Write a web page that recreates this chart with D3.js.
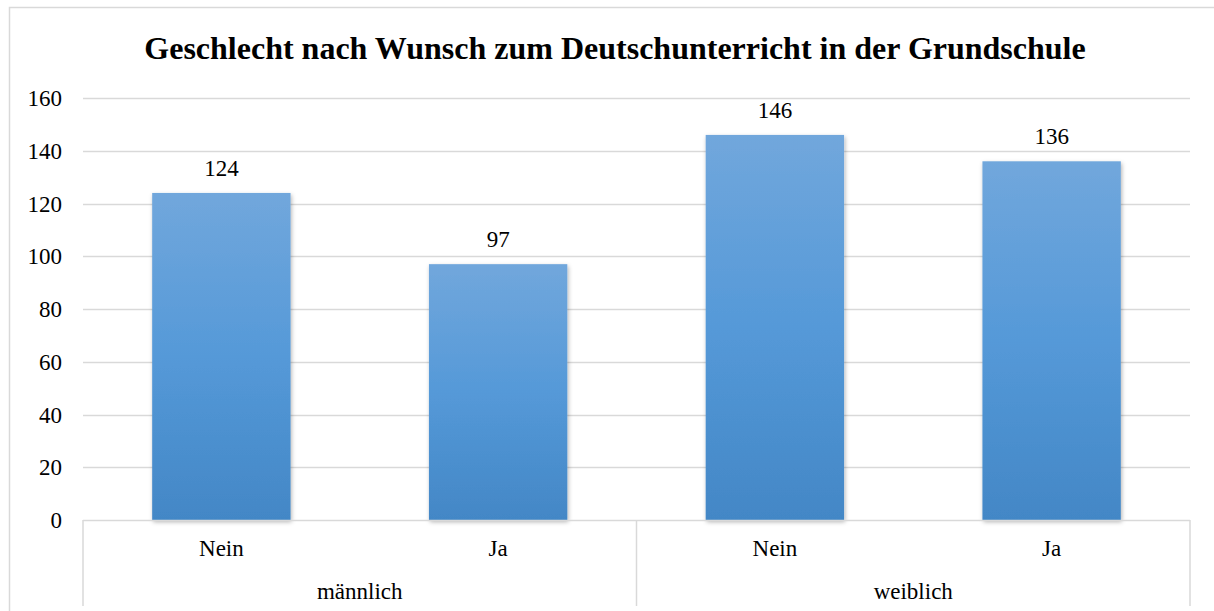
<!DOCTYPE html>
<html>
<head>
<meta charset="utf-8">
<script src="https://d3js.org/d3.v7.min.js"></script>
<style>
  body { margin: 0; background: #fff; }
  svg text { font-family: "Liberation Serif", "Times New Roman", serif; fill: #000; }
  .grid line { stroke: #d9d9d9; stroke-width: 1.5px; }
  .y.axis text { font-size: 23px; }
</style>
</head>
<body>
<div id="chart"></div>
<script>
var groups = ["männlich", "weiblich"];
var answers = ["Nein", "Ja"];
var values = [124, 97, 146, 136];
var yTicks = [0, 20, 40, 60, 80, 100, 120, 140, 160];
var title = "Geschlecht nach Wunsch zum Deutschunterricht in der Grundschule";

var width = 1214, height = 611;
var margins = {top: 98, left: 83, right: 24, bottom: 91};
var plotW = width - margins.left - margins.right,
    plotH = height - margins.top - margins.bottom;

// one row per bar: group + answer
var rows = [];
groups.forEach(function(g, gi){
  answers.forEach(function(a, ai){
    rows.push({key: g + "|" + a, group: g, answer: a, value: values[gi * answers.length + ai]});
  });
});

var svg = d3.select("#chart").append("svg")
    .attr("width", width)
    .attr("height", height)
    .attr("font-family", "Liberation Serif, serif");

var defs = svg.append("defs");
var grad = defs.append("linearGradient")
    .attr("id", "barGrad")
    .attr("x1", 0).attr("y1", 0).attr("x2", 0).attr("y2", 1);
grad.append("stop").attr("offset", "0%").attr("stop-color", "#71a7dc");
grad.append("stop").attr("offset", "50%").attr("stop-color", "#5599d8");
grad.append("stop").attr("offset", "100%").attr("stop-color", "#4387c6");

var shadow = defs.append("filter").attr("id", "shadow")
    .attr("x", "-10%").attr("y", "-10%").attr("width", "130%").attr("height", "130%");
shadow.append("feDropShadow")
    .attr("dx", 1).attr("dy", 2).attr("stdDeviation", 2)
    .attr("flood-color", "#000").attr("flood-opacity", 0.3);

// outer chart border
svg.append("rect")
    .attr("x", 9.5).attr("y", 7.5)
    .attr("width", width + 10).attr("height", height + 10)
    .attr("fill", "none")
    .attr("stroke", "#d9d9d9")
    .attr("stroke-width", 1.5);

svg.append("text")
    .attr("x", 615)
    .attr("y", 59)
    .attr("text-anchor", "middle")
    .style("font-size", "32px")
    .style("font-weight", "bold")
    .text(title);

var chart = svg.append("g")
    .attr("transform", "translate(" + margins.left + "," + margins.top + ")");

var x = d3.scaleBand()
    .domain(rows.map(function(d){ return d.key; }))
    .range([0, plotW])
    .paddingInner(0.5)
    .paddingOuter(0.25);

var y = d3.scaleLinear()
    .domain([0, 160])
    .range([plotH, 0]);

// gridlines
chart.append("g")
    .attr("class", "grid")
  .selectAll("line")
    .data(yTicks.filter(function(t){ return t > 0; }))
    .enter().append("line")
    .attr("x1", 0).attr("x2", plotW)
    .attr("y1", function(d){ return Math.round(y(d)) + 0.5; })
    .attr("y2", function(d){ return Math.round(y(d)) + 0.5; });

// y axis labels
var yAxis = d3.axisLeft(y).tickValues(yTicks).tickSize(0).tickPadding(21);
chart.append("g")
    .attr("class", "y axis")
    .call(yAxis)
    .attr("font-family", null)
    .attr("font-size", null)
    .call(function(g){ g.select(".domain").remove(); })
    .selectAll("text").attr("dy", "0.33em");

// bars
chart.selectAll(".bar")
    .data(rows)
    .enter().append("rect")
    .attr("class", "bar")
    .attr("x", function(d){ return x(d.key); })
    .attr("width", x.bandwidth())
    .attr("y", function(d){ return y(d.value); })
    .attr("height", function(d){ return plotH - y(d.value); })
    .attr("fill", "url(#barGrad)")
    .attr("filter", "url(#shadow)");

// value labels
chart.selectAll(".val")
    .data(rows)
    .enter().append("text")
    .attr("class", "val")
    .attr("x", function(d){ return x(d.key) + x.bandwidth() / 2; })
    .attr("y", function(d){ return y(d.value) - 17; })
    .attr("text-anchor", "middle")
    .style("font-size", "23px")
    .text(function(d){ return d.value; });

// category axis: baseline + separators
var axisCol = "#d9d9d9";
var step = x.step();
var groupW = step * answers.length;
var axisG = chart.append("g").attr("transform", "translate(0," + plotH + ")");

axisG.append("line")
    .attr("x1", 0).attr("x2", plotW)
    .attr("y1", 0.5).attr("y2", 0.5)
    .attr("stroke", axisCol).attr("stroke-width", 1.5);

d3.range(groups.length + 1).forEach(function(i){
  axisG.append("line")
      .attr("x1", i * groupW).attr("x2", i * groupW)
      .attr("y1", 0).attr("y2", 86)
      .attr("stroke", axisCol).attr("stroke-width", 1.5);
});

axisG.selectAll(".ans")
    .data(rows)
    .enter().append("text")
    .attr("x", function(d){ return x(d.key) + x.bandwidth() / 2; })
    .attr("y", 36)
    .attr("text-anchor", "middle")
    .style("font-size", "23px")
    .text(function(d){ return d.answer; });

axisG.selectAll(".grp")
    .data(groups)
    .enter().append("text")
    .attr("x", function(d, i){ return i * groupW + groupW / 2; })
    .attr("y", 79)
    .attr("text-anchor", "middle")
    .style("font-size", "23px")
    .text(function(d){ return d; });
</script>
</body>
</html>
